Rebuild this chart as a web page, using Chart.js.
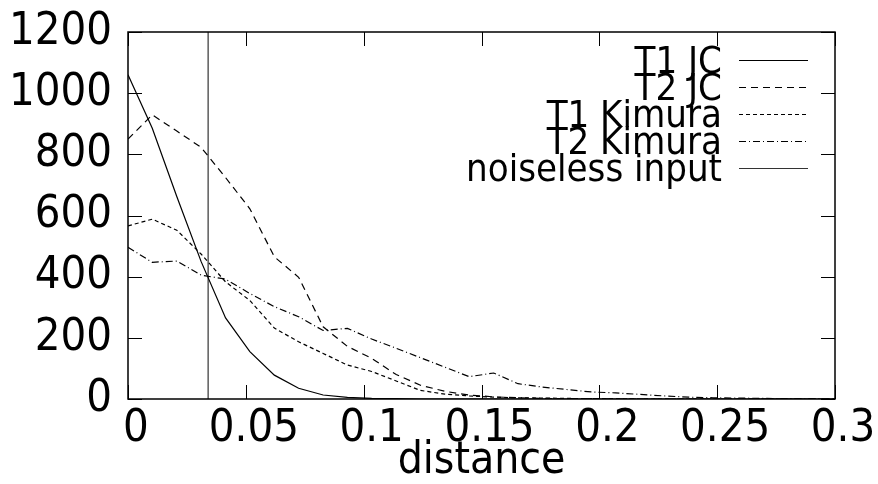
<!DOCTYPE html>
<html lang="en">
<head>
    <meta charset="UTF-8">
    <title>distance histogram</title>
    <script src="https://cdn.jsdelivr.net/npm/chart.js"></script>
    <style>
        html, body { margin: 0; padding: 0; background: #fff; }
        #chartBox { width: 878px; height: 484px; }
    </style>
</head>
<body>
    <div id="chartBox">
        <canvas id="distChart"></canvas>
    </div>
    <script>
        // x positions of the samples (distance)
        var distances = [0, 0.0103, 0.0207, 0.031, 0.0414, 0.0517, 0.0621, 0.0724, 0.0828, 0.0931,
                         0.1034, 0.1138, 0.1241, 0.1345, 0.1448, 0.1552, 0.1655, 0.1759, 0.1862, 0.1966,
                         0.2069, 0.2172, 0.2276, 0.2379, 0.2483, 0.2586, 0.269, 0.2793, 0.2897, 0.3];

        var t1JC      = [1060, 885, 662, 450, 265, 155, 78, 35, 13, 5, 2, 1, 0, 0, 0,
                         0, 0, 0, 0, 0, 0, 0, 0, 0, 0, 0, 0, 0, 0, 0];
        var t2JC      = [850, 929, 876, 823, 724, 622, 465, 398, 236, 172, 133, 80, 45, 25, 13,
                         7, 4, 2, 1, 1, 0, 0, 0, 0, 0, 0, 0, 0, 0, 0];
        var t1Kimura  = [566, 588, 552, 474, 383, 322, 232, 187, 149, 111, 90, 59, 28, 16, 10,
                         6, 4, 3, 2, 1, 1, 0, 0, 0, 0, 0, 0, 0, 0, 0];
        var t2Kimura  = [496, 447, 451, 405, 392, 345, 302, 269, 224, 231, 196, 166, 135, 104, 73,
                         85, 50, 39, 31, 23, 20, 15, 10, 6, 4, 3, 2, 1, 1, 0];

        // the noiseless input is a single distance, drawn as a vertical line
        var noiselessX = [0.034, 0.034];
        var noiselessY = [0, 1200];

        var xTicks = [0, 0.05, 0.1, 0.15, 0.2, 0.25, 0.3];
        var yTicks = [0, 200, 400, 600, 800, 1000, 1200];

        function toPoints(xs, ys) {
            var pts = [];
            for (var i = 0; i < ys.length; i++) {
                pts.push({ x: xs[i], y: ys[i] });
            }
            return pts;
        }

        var fontFamily = "'DejaVu Sans Condensed', 'DejaVu Sans', sans-serif";
        Chart.defaults.font.family = fontFamily;
        Chart.defaults.font.size = 45;
        Chart.defaults.color = '#000';

        // gnuplot-like frame, inward ticks and the overlapping key
        var gnuplotLook = {
            id: 'gnuplotLook',
            afterDraw: function(chart) {
                var ctx = chart.ctx;
                var a = chart.chartArea;
                var xs = chart.scales.x, ys = chart.scales.y;
                var tick = 14;
                ctx.save();
                ctx.strokeStyle = '#000';
                ctx.lineWidth = 1.5;
                ctx.setLineDash([]);
                ctx.strokeRect(a.left, a.top, a.right - a.left, a.bottom - a.top);
                ctx.lineWidth = 1;
                ctx.beginPath();
                xTicks.forEach(function(v) {
                    var px = Math.round(xs.getPixelForValue(v)) + 0.5;
                    ctx.moveTo(px, a.bottom); ctx.lineTo(px, a.bottom - tick);
                    ctx.moveTo(px, a.top); ctx.lineTo(px, a.top + tick);
                });
                yTicks.forEach(function(v) {
                    var py = Math.round(ys.getPixelForValue(v)) + 0.5;
                    ctx.moveTo(a.left, py); ctx.lineTo(a.left + tick, py);
                    ctx.moveTo(a.right, py); ctx.lineTo(a.right - tick, py);
                });
                ctx.stroke();

                // key
                var textRight = 722, sampleL = 739, sampleR = 808;
                var rowY = 60, rowStep = 27;
                ctx.font = "38px " + fontFamily;
                ctx.textAlign = 'right';
                ctx.textBaseline = 'alphabetic';
                ctx.fillStyle = '#000';
                chart.data.datasets.forEach(function(ds, i) {
                    var y = rowY + i * rowStep;
                    ctx.fillText(ds.label, textRight, y + 13);
                    ctx.strokeStyle = ds.borderColor;
                    ctx.lineWidth = ds.borderWidth;
                    ctx.setLineDash(ds.borderDash || []);
                    ctx.beginPath();
                    ctx.moveTo(sampleL, y + 0.5);
                    ctx.lineTo(sampleR, y + 0.5);
                    ctx.stroke();
                });
                ctx.restore();
            }
        };

        var ctx = document.getElementById('distChart').getContext('2d');
        var distChart = new Chart(ctx, {
            type: 'line',
            data: {
                datasets: [
                    { label: 'T1 JC', data: toPoints(distances, t1JC), borderColor: '#000', borderWidth: 1.2, borderDash: [] },
                    { label: 'T2 JC', data: toPoints(distances, t2JC), borderColor: '#000', borderWidth: 1.2, borderDash: [7, 5] },
                    { label: 'T1 Kimura', data: toPoints(distances, t1Kimura), borderColor: '#000', borderWidth: 1.2, borderDash: [4, 3] },
                    { label: 'T2 Kimura', data: toPoints(distances, t2Kimura), borderColor: '#000', borderWidth: 1.2, borderDash: [7, 3, 1, 3] },
                    { label: 'noiseless input', data: toPoints(noiselessX, noiselessY), borderColor: '#333', borderWidth: 1.2, borderDash: [] }
                ]
            },
            options: {
                responsive: true,
                maintainAspectRatio: false,
                animation: false,
                elements: { point: { radius: 0 }, line: { tension: 0, fill: false } },
                layout: { padding: { top: 32, right: 43, left: 0, bottom: 0 } },
                plugins: { legend: { display: false }, tooltip: { enabled: false } },
                scales: {
                    x: {
                        type: 'linear',
                        min: 0,
                        max: 0.3,
                        afterBuildTicks: function(scale) {
                            scale.ticks = xTicks.map(function(v) { return { value: v }; });
                        },
                        afterFit: function(scale) {
                            scale.height = 85;
                            scale.paddingLeft = 0; scale.paddingRight = 0;
                        },
                        grid: { display: false, drawTicks: false },
                        border: { display: false },
                        ticks: { padding: 3, labelOffset: 8, maxRotation: 0, autoSkip: false,
                                 callback: function(v) { return String(v); } },
                        title: { display: true, text: 'distance', font: { size: 44, lineHeight: 1.0 },
                                 padding: { top: 0, bottom: 0 } }
                    },
                    y: {
                        min: 0,
                        max: 1200,
                        afterBuildTicks: function(scale) {
                            scale.ticks = yTicks.map(function(v) { return { value: v }; });
                        },
                        afterFit: function(scale) {
                            scale.width = 128;
                            scale.paddingTop = 0; scale.paddingBottom = 0;
                        },
                        grid: { display: false, drawTicks: false },
                        border: { display: false },
                        ticks: { padding: 16, callback: function(v) { return String(v); } }
                    }
                }
            },
            plugins: [gnuplotLook]
        });
    </script>
</body>
</html>
